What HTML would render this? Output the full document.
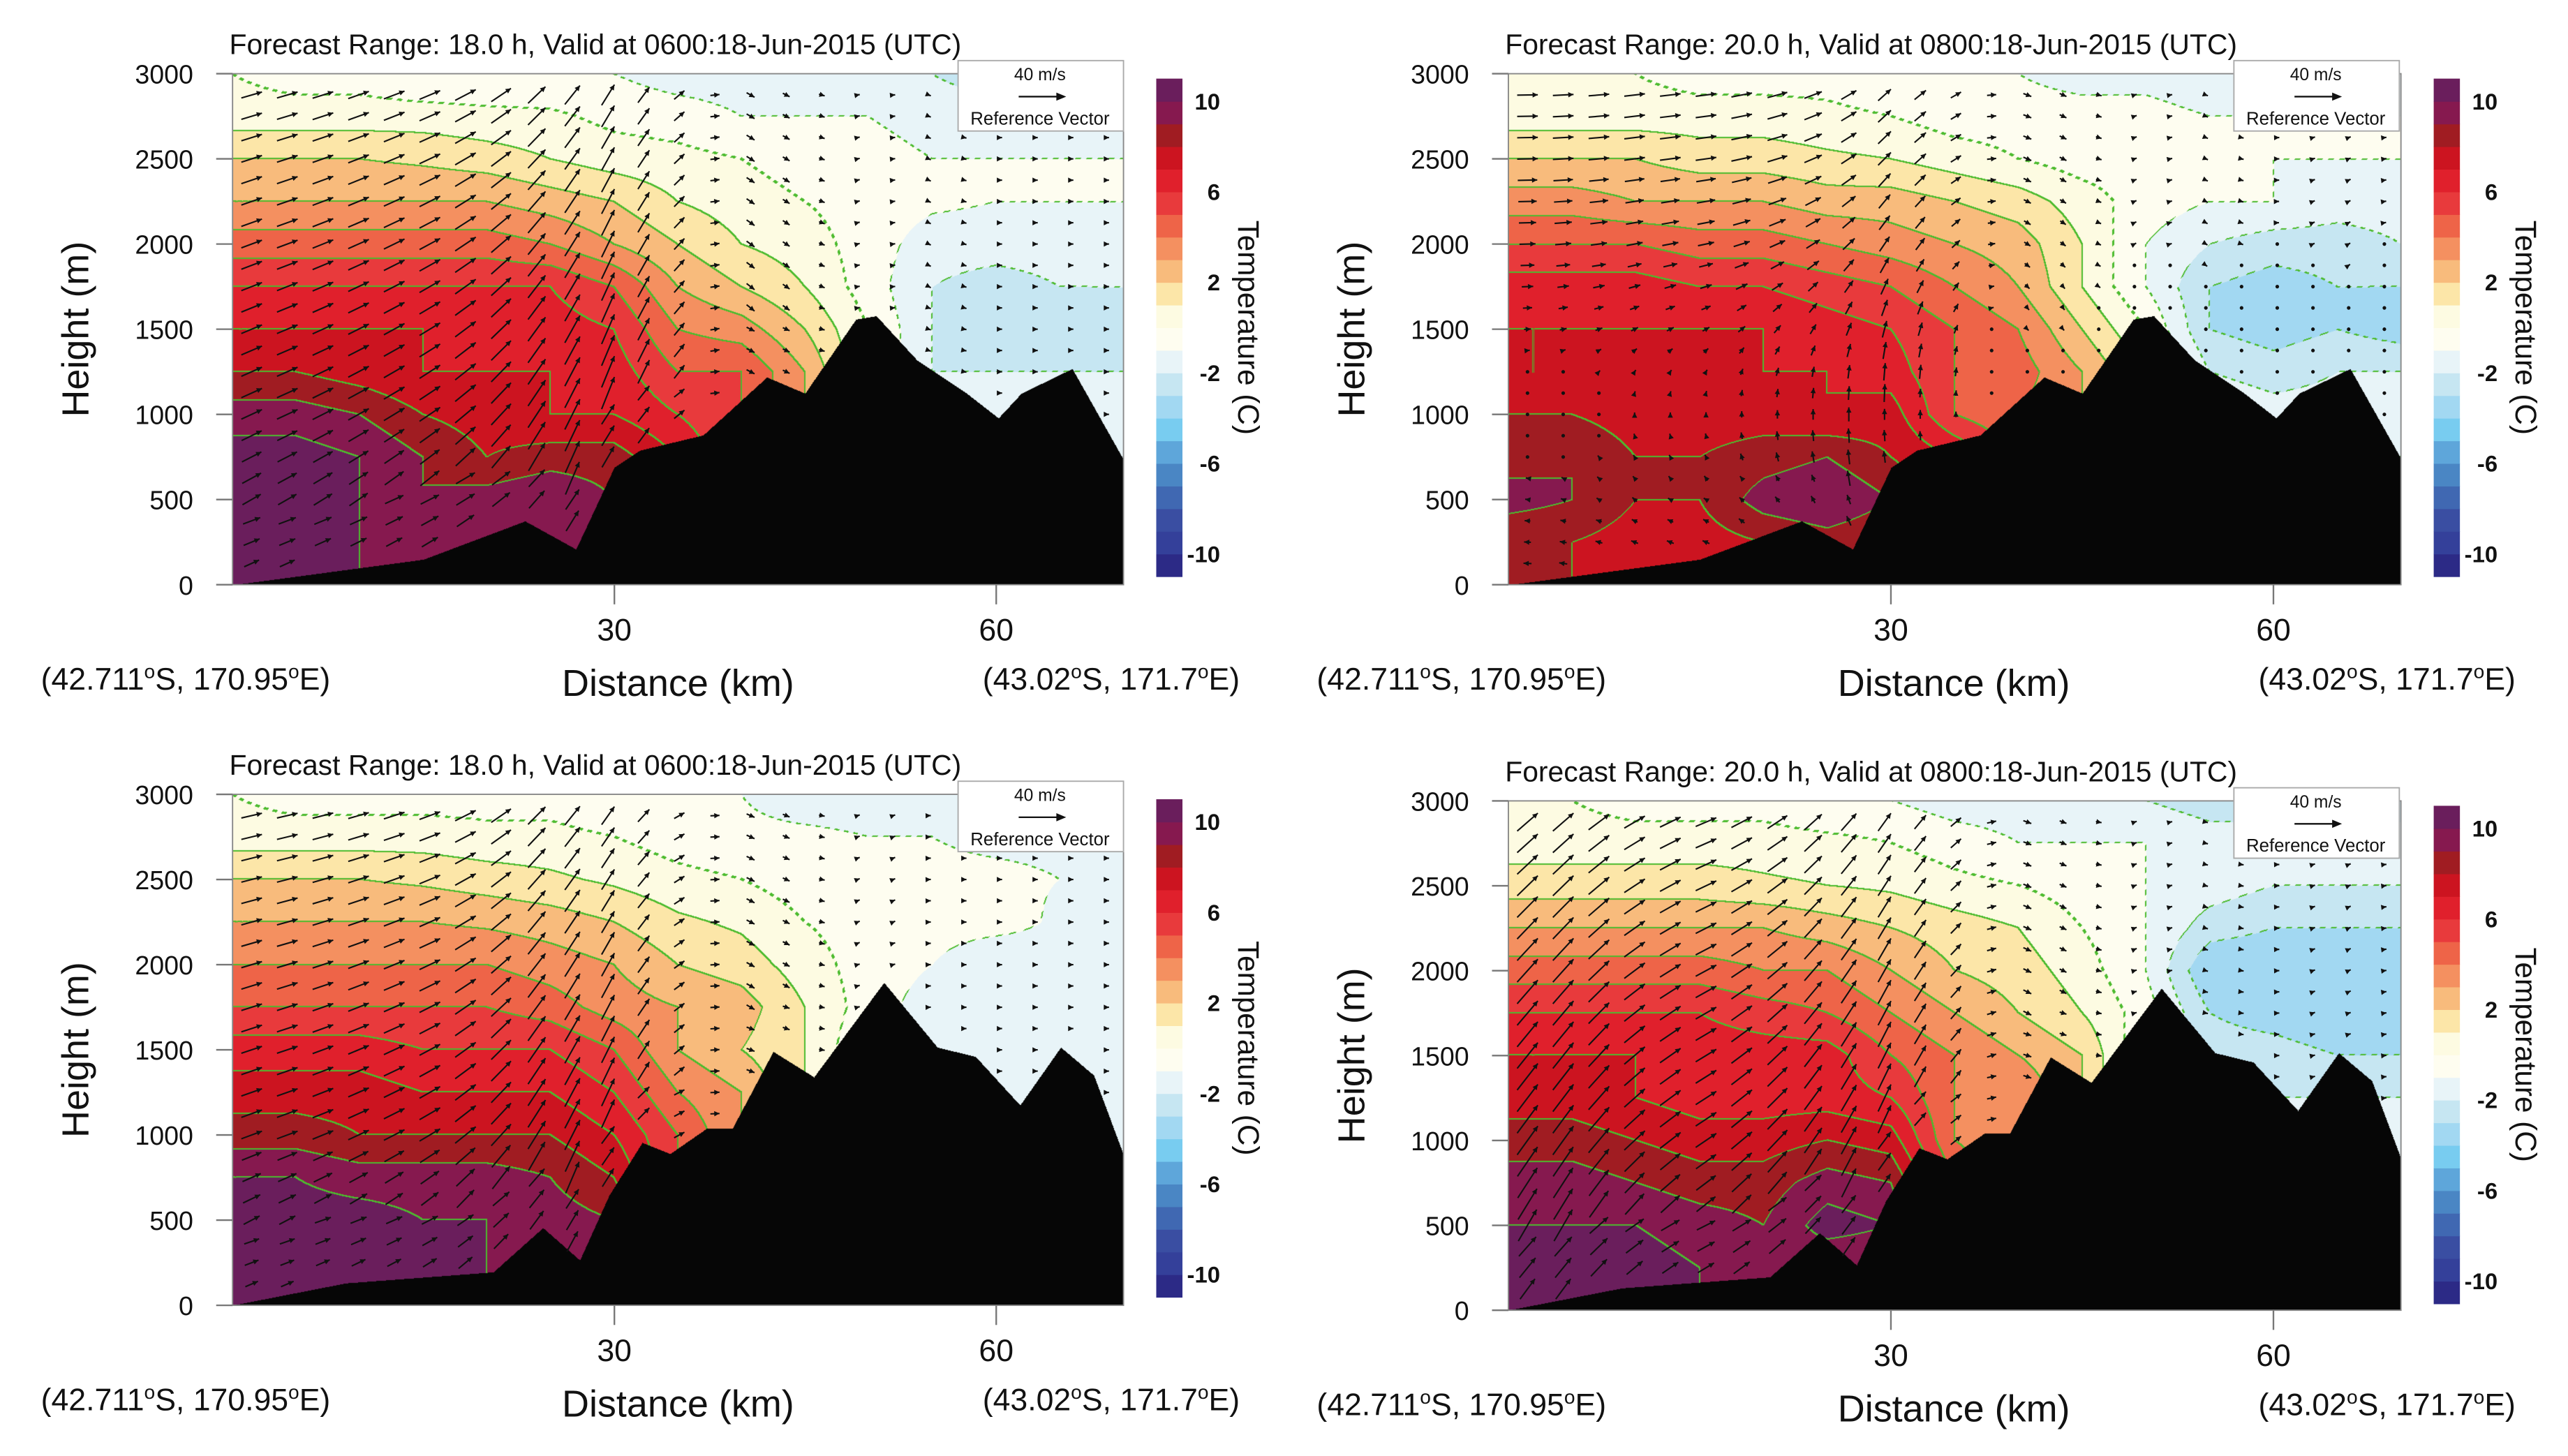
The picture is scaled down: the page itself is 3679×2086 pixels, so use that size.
<!DOCTYPE html>
<html><head><meta charset="utf-8"><style>
html,body{margin:0;padding:0;background:#fff;}
#wrap{position:relative;width:3679px;height:2086px;overflow:hidden;background:#fff;}
canvas{position:absolute;}
svg{position:absolute;left:0;top:0;}
text{font-family:"Liberation Sans",sans-serif;fill:#111;}
</style></head><body>
<div id="wrap">
<canvas id="c0"></canvas>
<canvas id="c1"></canvas>
<canvas id="c2"></canvas>
<canvas id="c3"></canvas>
<svg id="svg" width="3679" height="2086" viewBox="0 0 1568 889" preserveAspectRatio="none"></svg>
</div>
<script>
// ---- data ----
const levelColors = ['#2c2a86','#34409a','#3a4ea2','#4068b2','#4a86c4','#5ea6da','#78ccf0','#a2d8f2','#c6e6f2','#e8f4f8','#fefdf0','#fdfbe2','#fce6a8','#f8bb7c','#f49060','#ee6448','#e83a3c','#e0202c','#cc1420','#a01c22','#86194f','#6a1e5c'];
const cbLabels = [10,6,2,-2,-6,-10];
const yTicks = [0,500,1000,1500,2000,2500,3000];
const xTicks = [30,60];
const gridKm = [0,5,10,15,20,25,30,35,40,45,50,55,60,65,70];
const gridZ = [3000,2750,2500,2250,2000,1750,1500,1250,1000,750,500,250,0];
const terrainKmA = [0,15,23,27,30,32,37,42,45,49,50.6,53.8,57.7,60.2,62,66,70];
const terrainZA = [0,150,375,210,690,790,880,1220,1125,1560,1580,1320,1125,980,1125,1270,740];
const terrainKmB = [0,8.9,20.5,24.4,27.3,29.6,32.2,34.4,37.3,39.3,42.5,45.7,51.2,55.4,58.4,61.9,65.1,67.7,70];
const terrainZB = [0,130,195,455,265,645,955,890,1040,1040,1490,1340,1895,1515,1460,1175,1515,1350,890];
const tempTL = [
[0,-0.5,-0.5,-1,-1,-1,-1,-1.5,-1.5,-1.5,-2,-2,-2.5,-2.5,-2.5],
[0.5,0.5,0.5,0.5,0.3,0.2,-0.3,-0.5,-1,-1,-1,-1.5,-1.5,-1.5,-1.5],
[2,2,2,1.8,1.5,1,0.5,0.3,0,-0.5,-0.5,-1,-1,-1,-1],
[3,3,3,3,3,2.5,2,1,0.5,0,-0.5,-0.8,-1,-1,-1],
[4.5,4.5,4.5,4.5,4.5,4,3,2,1,0.5,-0.5,-1.5,-1.5,-1.5,-1.5],
[6,6,6,6,6,6,5,3,2,1,-0.5,-2,-2.5,-2,-2],
[7,7,7,7,6.5,6.5,6,4,3.5,2,0,-2,-2.5,-2.5,-2],
[8,8,7.5,7,7,7,6.5,5,5,3,0,-2,-2,-2,-2],
[9.5,9.5,9,8,7.5,7,7,6,5,3,0,-2,-2,-2,-2],
[10.5,10.5,10,9,8,8.5,8.5,7,5,3,1,-1,-2,-2,-2],
[10.5,10.5,10,9,9.5,10,9,8,6,4,2,0,-2,-2,-2],
[10.5,10.5,10,9,9,9.5,8.5,8,6,4,2,0,-1,-1,-1],
[10.5,10.5,10,9,9,9.5,8.5,8,6,4,2,0,-1,-1,-1]];
const tempTR = [
[0,0,0,-0.5,-0.5,-0.5,-1,-1,-1,-1.5,-1.5,-2,-2,-2,-2],
[0.5,0.5,0.5,0.5,0.5,0.3,0,-0.5,-0.5,-0.5,-0.5,-1,-1,-1,-1],
[2,2,2,1.5,1.5,1.2,1,0.5,0,-0.5,-0.5,-1,-1,-1,-1],
[3.5,3.5,3,3,3,2.5,2.5,2,1.5,0.5,-0.5,-1,-1,-1.5,-1.5],
[5,5,5,4.5,4.5,4,3.5,3,2.5,1,-1,-2,-2.5,-2.5,-2],
[6.5,6.5,6.5,6,6,5.5,5,4,3,1,-1,-3,-3.5,-3,-3],
[7,7,7,7,7,6.5,6,5,4,2,0,-3,-3.5,-3,-3.5],
[7,7,7,7,7,7,6.5,5,4.5,3,1,-2,-2.5,-2,-2],
[8,8,7.5,7.5,7.5,7,7.5,5,4,3,1,-1,-1.5,-1.5,-1.5],
[8.5,9,8,8,8.5,9,8,7,5,3,1,0,-1,-1,-1],
[9.5,9,8,8,9.5,10,9,7,5,3,1,0,-1,-1,-1],
[8,8,7.5,7.5,8,8.5,8,7,5,3,1,0,-1,-1,-1],
[8,8,7.5,7.5,8,8.5,8,7,5,3,1,0,-1,-1,-1]];
const tempBL = [
[0,-0.5,-0.5,-0.5,-0.5,-0.5,-1,-1,-1,-1.5,-1.5,-2,-2,-2.5,-2.5],
[0.5,0.5,0.5,0.5,0.3,0.3,0,-0.5,-0.8,-0.8,-1,-1,-1.2,-1.2,-1.5],
[2,2,2,1.8,1.5,1.2,0.8,0.3,0,-0.5,-0.5,-0.8,-0.8,-1,-1.2],
[3,3,3,3,2.8,2.5,2,1.2,0.8,0,-0.5,-0.5,-0.5,-1.2,-1.5],
[4,4,4,4,4,3.5,3,2,1.5,0.5,-0.5,-1,-2,-1.5,-1.5],
[5,5,5,5,5,4.5,3.5,3,2.5,1,-0.5,-1.5,-1.5,-1.5,-1.5],
[6.5,6.5,6.5,6,6,6,5,3,2,1,-1,-2,-1.5,-2,-2],
[7.5,7.5,7.5,7,7,7,6,4,3,1,-1,-2,-2,-2,-2],
[8.5,8.5,8,8,8,8,7,5,3,1,-1,-2,-2,-2,-2],
[10,10,9.5,9.5,9.5,9,8,5,3,1,-1,-2,-2,-2,-2],
[10.5,10.5,10.5,10,10,9.5,9,5,3,1,-1,-2,-2,-2,-2],
[10.5,10.5,10.5,10,10,9.5,9,5,3,1,-1,-2,-2,-2,-2],
[10.5,10.5,10.5,10,10,9.5,9,5,3,1,-1,-2,-2,-2,-2]];
const tempBR = [
[0,0,-0.5,-0.5,-0.5,-1,-1,-1.5,-1.5,-2,-2,-2.5,-2.5,-2.5,-2.5],
[0.5,0.5,0.5,0.5,0.5,0.3,0,-0.5,-1,-1,-1,-1.5,-1.5,-1.5,-1.5],
[1.5,1.5,1.5,1.5,1.2,1,0.8,0.3,0,-0.5,-1,-1.5,-2,-2,-2],
[3,3,3,3,3,2.5,2,1.5,1,0,-1,-2.5,-3,-3,-3],
[4.5,4.5,4.5,4.5,4,4,3,2,1.5,0.5,-1,-4,-4,-4,-4],
[6,6,6,6,5.5,5,4,3,2,1,-0.5,-3,-3.5,-4,-4],
[7,7,7,6.5,6.5,6.5,5,4,3,2,-1,-2.5,-2.5,-3,-3],
[7.5,7.5,7,6.5,6.5,6.5,6,4,4,2,-1,-2,-2,-2,-2],
[8.5,8.5,8,7.5,7.5,8,7.5,4,3,2,-1,-2,-2,-2,-2],
[9.5,9.5,9,8.5,8.5,9.5,9,5,3,1,-1,-2,-2,-2,-2],
[10,10,10,9.5,9,10.5,10,5,3,1,-1,-2,-2,-2,-2],
[10.5,10.5,10.5,10,9.5,9,9,5,3,1,-1,-2,-2,-2,-2],
[10.5,10.5,10.5,10,9.5,9,9,5,3,1,-1,-2,-2,-2,-2]];
const windLevelsZ = [0,250,500,750,1000,1250,1500,1750,2000,2250,2500,2750,3000];
const uTL = [12,14,16,17,18,18,18,18,18,18,18,18,18];
const uTR = [-8,-6,-4,-2,0,2,6,10,14,16,18,18,18];
const uBL = [10,12,14,16,18,18,18,18,18,18,18,18,18];
const uBR = [12,14,16,17,18,18,18,18,18,18,18,18,18];
const colFactorA = [1,1,1,1,1,0.8,0.6,0.5,0.4,0.3,0.2,0.2,0.2,0.2,0.2];
const wTL = [10,10,12,14,20,30,35,15,-8,-5,3,-3,0,0,0];
const wTR = [0,2,4,4,8,12,20,10,-5,-5,4,-3,0,3,0];
const wBL = [8,8,10,12,20,32,30,10,-6,-4,4,0,0,0,0];
const wBR = [30,30,20,14,20,28,30,15,-5,-4,4,-2,0,3,0];

const panels = [
 {x0:142,y0:45,w:544,h:312,cbx:706,cby:48,cbh:304,temp:tempTL,tk:terrainKmA,tz:terrainZA,u:uTL,wv:wTL,title:'Forecast Range: 18.0 h, Valid at 0600:18-Jun-2015  (UTC)',name:'top-left'},
 {x0:921,y0:45,w:545,h:312,cbx:1486,cby:48,cbh:304,temp:tempTR,tk:terrainKmA,tz:terrainZA,u:uTR,wv:wTR,title:'Forecast Range: 20.0 h, Valid at 0800:18-Jun-2015  (UTC)',name:'top-right'},
 {x0:142,y0:485,w:544,h:312,cbx:706,cby:488,cbh:304,temp:tempBL,tk:terrainKmB,tz:terrainZB,u:uBL,wv:wBL,title:'Forecast Range: 18.0 h, Valid at 0600:18-Jun-2015  (UTC)',name:'bottom-left'},
 {x0:921,y0:489,w:545,h:311,cbx:1486,cby:492,cbh:304,temp:tempBR,tk:terrainKmB,tz:terrainZB,u:uBR,wv:wBR,title:'Forecast Range: 20.0 h, Valid at 0800:18-Jun-2015  (UTC)',name:'bottom-right'}
];
const SX = 3679/1568, SY = 2086/889;
const NS = 'http://www.w3.org/2000/svg';
const svg = document.getElementById('svg');

function interp1(xs, ys, x){
  if (x<=xs[0]) return ys[0];
  for (let i=1;i<xs.length;i++){ if (x<=xs[i]){ const t=(x-xs[i-1])/(xs[i]-xs[i-1]); return ys[i-1]+t*(ys[i]-ys[i-1]); } }
  return ys[ys.length-1];
}
function tempAt(g, km, z){
  let fx = km/5; if (fx<0) fx=0; if (fx>14) fx=14;
  let fy = (3000-z)/250; if (fy<0) fy=0; if (fy>12) fy=12;
  const i=Math.min(13,Math.floor(fx)), j=Math.min(11,Math.floor(fy));
  const tx=fx-i, ty=fy-j;
  const a=g[j][i], b=g[j][i+1], c=g[j+1][i], d=g[j+1][i+1];
  return (a*(1-tx)+b*tx)*(1-ty)+(c*(1-tx)+d*tx)*ty;
}
function hex(c){return [parseInt(c.substr(1,2),16),parseInt(c.substr(3,2),16),parseInt(c.substr(5,2),16)];}
const rgb = levelColors.map(hex);

function el(tag, attrs, parent){
  const e=document.createElementNS(NS,tag);
  for (const k in attrs) e.setAttribute(k, attrs[k]);
  (parent||svg).appendChild(e); return e;
}

panels.forEach((p, pi)=>{
  const cv=document.getElementById('c'+pi);
  const L=Math.round(p.x0*SX), T=Math.round(p.y0*SY);
  const W=Math.round(p.w*SX), H=Math.round(p.h*SY);
  cv.style.left=L+'px'; cv.style.top=T+'px'; cv.width=W; cv.height=H;
  const ctx=cv.getContext('2d'); const img=ctx.createImageData(W,H); const D=img.data;
  const lv=new Int16Array(W*H);
  const terr=new Float32Array(W);
  for (let x=0;x<W;x++) terr[x]=interp1(p.tk,p.tz,x/W*70);
  for (let y=0;y<H;y++){ const z=(1-y/H)*3000; for (let x=0;x<W;x++){
    let t=tempAt(p.temp,x/W*70,z); let l=Math.floor(t)+11; if(l<0)l=0; if(l>21)l=21; lv[y*W+x]=l; } }
  for (let y=0;y<H;y++){ const z=(1-y/H)*3000; for (let x=0;x<W;x++){
    const k=y*W+x, o=k*4; let c=rgb[lv[k]];
    const l=lv[k];
    let edge=-99;
    const l2 = x+2<W? lv[k+2]:l, l3 = y+2<H? lv[k+2*W]:l;
    if (l2!==l) edge=Math.max(l,l2)-11; else if (l3!==l) edge=Math.max(l,l3)-11;
    if (edge===-99){ const l4=x+3<W?lv[k+3]:l, l5=y+3<H?lv[k+3*W]:l;
      if ((l4!==l && Math.max(l,l4)===11)||(l5!==l && Math.max(l,l5)===11)) edge=0; }
    if (edge!==-99){ if (edge>0 || ((((x+y)>>3)&1)===0)) c=[76,187,46]; }
    if (z<terr[x]) c=[6,6,6];
    D[o]=c[0];D[o+1]=c[1];D[o+2]=c[2];D[o+3]=255;
  } }
  ctx.putImageData(img,0,0);

  const g=el('g',{});
  
  
  const xs=km=>p.x0+km/70*p.w, ys=z=>p.y0+p.h-z/3000*p.h;

  const vg=el('g',{stroke:'#111','stroke-width':0.9,fill:'#111'},g);
  
  
  for (let km=1.5; km<69.5; km+=2.8){
    for (let z=125; z<2950; z+=125){
      const tz=interp1(p.tk,p.tz,km); if (z<tz+60) continue;
      const u=interp1(windLevelsZ,p.u,z)*interp1(gridKm,colFactorA,km);
      const w=interp1(gridKm,p.wv,km)*(z<tz+400?0.6:1)*(1-z/6000);
      const dx=u*0.7, dy=-w*0.7;
      const len=Math.hypot(dx,dy);
      const cx=xs(km), cy=ys(z);
      const x1=cx-dx/2,y1=cy-dy/2,x2=cx+dx/2,y2=cy+dy/2;
      if (len<2){ const d=el('circle',{cx:cx,cy:cy,r:1.1,stroke:'none'},vg);   continue; }
      const ln=el('line',{x1:x1,y1:y1,x2:x2,y2:y2},vg);
      
      
      const ux=dx/len, uy=dy/len, hs=3.2;
      const hd=el('polygon',{points:`${x2},${y2} ${x2-ux*hs-uy*hs*0.5},${y2-uy*hs+ux*hs*0.5} ${x2-ux*hs+uy*hs*0.5},${y2-uy*hs-ux*hs*0.5}`,stroke:'none'},vg);
      
      
    }
  }
  const fr=el('rect',{x:p.x0,y:p.y0,width:p.w,height:p.h,fill:'none',stroke:'#888','stroke-width':0.8},g);
  
  
  const tt=el('text',{x:p.x0-2,y:p.y0-12,'font-size':17.5,textLength:447,lengthAdjust:'spacingAndGlyphs'},g);
  tt.textContent=p.title;
  
  
  yTicks.forEach(v=>{
    const y=ys(v);
    const tl=el('line',{x1:p.x0-10,y1:y,x2:p.x0,y2:y,stroke:'#777','stroke-width':1},g);
    
    
    const tx=el('text',{x:p.x0-24,y:y+6,'font-size':16,'text-anchor':'end'},g);
    tx.textContent=v;
    
    
  });
  const yl=el('text',{x:0,y:0,'font-size':23,'text-anchor':'middle',transform:`translate(${p.x0-88},${p.y0+p.h/2}) rotate(-90)`},g);
  yl.textContent='Height (m)';
  
  
  xTicks.forEach(v=>{
    const x=xs(v);
    const tl=el('line',{x1:x,y1:p.y0+p.h,x2:x,y2:p.y0+p.h+12,stroke:'#777','stroke-width':1},g);
    
    
    const tx=el('text',{x:x,y:p.y0+p.h+34,'font-size':19,'text-anchor':'middle'},g);
    tx.textContent=v;
    
    
  });
  const xl=el('text',{x:p.x0+272,y:p.y0+p.h+68,'font-size':23,'text-anchor':'middle'},g);
  xl.textContent='Distance (km)';
  
  
  const c1=el('text',{x:p.x0-117,y:p.y0+p.h+64,'font-size':19},g);
  c1.innerHTML='(42.711<tspan dy="-7" font-size="12">o</tspan><tspan dy="7">S, 170.95</tspan><tspan dy="-7" font-size="12">o</tspan><tspan dy="7">E)</tspan>';
  
  
  const c2=el('text',{x:p.x0+458,y:p.y0+p.h+64,'font-size':19},g);
  c2.innerHTML='(43.02<tspan dy="-7" font-size="12">o</tspan><tspan dy="7">S, 171.7</tspan><tspan dy="-7" font-size="12">o</tspan><tspan dy="7">E)</tspan>';
  
  
  const rb=el('g',{},g);
  
  
  el('rect',{x:p.x0+443,y:p.y0-8,width:101,height:43,fill:'#fff',stroke:'#aaa','stroke-width':0.8},rb);
  const r1=el('text',{x:p.x0+493,y:p.y0+4,'font-size':10.5,'text-anchor':'middle'},rb); r1.textContent='40 m/s';
  el('line',{x1:p.x0+480,y1:p.y0+14,x2:p.x0+505,y2:p.y0+14,stroke:'#111','stroke-width':1},rb);
  el('polygon',{points:`${p.x0+509},${p.y0+14} ${p.x0+503},${p.y0+11.5} ${p.x0+503},${p.y0+16.5}`,fill:'#111'},rb);
  const r2=el('text',{x:p.x0+493,y:p.y0+31,'font-size':11,'text-anchor':'middle'},rb); r2.textContent='Reference Vector';
  const cb=el('g',{},g);
  
  
  const bh=p.cbh/levelColors.length;
  levelColors.forEach((c,i)=>{
    const r=el('rect',{x:p.cbx,y:p.cby+p.cbh-(i+1)*bh,width:16,height:bh+0.3,fill:c},cb);
    
    
  });
  cbLabels.forEach(v=>{
    const y=p.cby+p.cbh-(v+11)*bh;
    const t=el('text',{x:p.cbx+39,y:y+5,'font-size':14,'font-weight':'bold','text-anchor':'end'},cb);
    t.textContent=v;
    
    
  });
  const ct=el('text',{x:0,y:0,'font-size':18,'text-anchor':'middle',transform:`translate(${p.cbx+50},${p.cby+p.cbh/2}) rotate(90)`},cb);
  ct.textContent='Temperature (C)';
  
  
});
</script>
</body></html>
